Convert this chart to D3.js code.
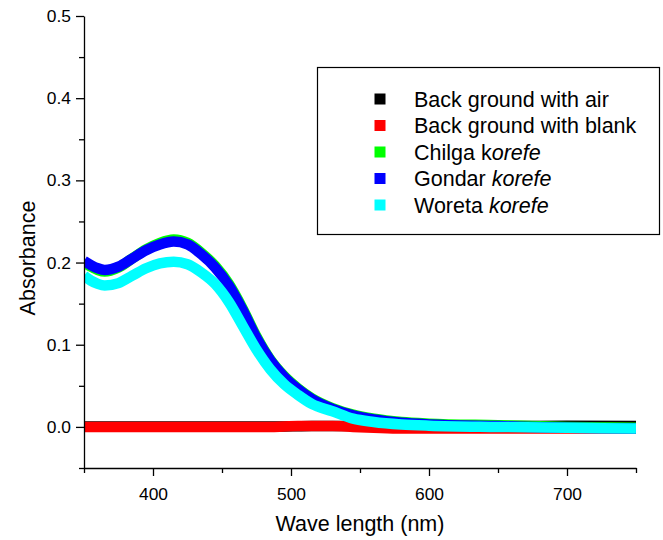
<!DOCTYPE html>
<meta charset="utf-8">
<style>
  body { margin: 0; background: #fff; }
  svg text { font-family: Arial, "Liberation Sans", sans-serif; fill: #000; }
</style>
<svg width="663" height="540"></svg>
<script src="https://cdn.jsdelivr.net/npm/d3@7/dist/d3.min.js"></script>
<script>

// wavelengths (nm) the values were read at
var wavelength = [350, 355, 360, 365, 375, 385, 395, 405, 415, 425, 435, 445, 455, 465, 475, 485, 495, 505, 515, 530, 545, 560, 580, 600, 650, 700, 750];

// absorbance per sample
var bgAir   = [0.0005, 0.0005, 0.0005, 0.0005, 0.0005, 0.0005, 0.0005, 0.0005, 0.0005, 0.0005, 0.0005, 0.0005, 0.0005, 0.0005, 0.0005, 0.0005, 0.0005, 0.0008, 0.001, 0.001, 0.001, 0.001, 0.001, 0.001, 0.001, 0.0015, 0.001];
var bgBlank = [0, 0, 0, 0, 0, 0, 0, 0, 0, 0, 0, 0, 0, 0, 0, 0, 0.0005, 0.001, 0.001, 0.001, 0, -0.001, -0.002, -0.002, -0.002, -0.002, -0.002];
var chilga  = [0.200, 0.195, 0.191, 0.189, 0.194, 0.205, 0.216, 0.224, 0.228, 0.224, 0.212, 0.196, 0.174, 0.144, 0.110, 0.082, 0.062, 0.047, 0.035, 0.023, 0.015, 0.010, 0.006, 0.004, 0.002, 0.000, -0.001];
var gondar  = [0.202, 0.197, 0.193, 0.191, 0.195, 0.205, 0.215, 0.222, 0.2255, 0.222, 0.210, 0.194, 0.172, 0.142, 0.108, 0.081, 0.061, 0.046, 0.034, 0.022, 0.014, 0.009, 0.005, 0.003, 0.001, -0.001, -0.002];
var woreta  = [0.184, 0.178, 0.174, 0.172, 0.175, 0.184, 0.193, 0.199, 0.201, 0.198, 0.188, 0.174, 0.152, 0.123, 0.094, 0.070, 0.052, 0.039, 0.028, 0.019, 0.010, 0.006, 0.003, 0.0015, 0.000, -0.001, -0.002];

var xMajor = [400, 500, 600, 700];
var xMinor = [350, 450, 550, 650, 750];
var yMajor = [0.0, 0.1, 0.2, 0.3, 0.4, 0.5];
var yMinor = [-0.05, 0.05, 0.15, 0.25, 0.35, 0.45];

var series = [
  {name: ["Back ground with air", ""], values: bgAir, color: "#000000"},
  {name: ["Back ground with blank", ""], values: bgBlank, color: "#ff0000"},
  {name: ["Chilga k", "orefe"], values: chilga, color: "#00ff00"},
  {name: ["Gondar ", "korefe"], values: gondar, color: "#0000ff"},
  {name: ["Woreta ", "korefe"], values: woreta, color: "#00ffff"}
];

var svg = d3.select("svg");

var x = d3.scaleLinear().domain([350, 750]).range([84, 636]);
var y = d3.scaleLinear().domain([-0.05, 0.5]).range([468, 16]);

// clip the thick traces to the plot area
svg.append("clipPath").attr("id", "plot")
  .append("rect")
    .attr("x", x(350)).attr("y", y(0.5))
    .attr("width", x(750) - x(350)).attr("height", y(-0.05) - y(0.5));

var line = d3.line()
  .x(function(d, i) { return x(wavelength[i]); })
  .y(function(d) { return y(d); })
  .curve(d3.curveMonotoneX);

svg.append("g").attr("clip-path", "url(#plot)")
  .selectAll("path")
  .data(series)
  .enter().append("path")
    .attr("d", function(d) { return line(d.values); })
    .attr("fill", "none")
    .attr("stroke", function(d) { return d.color; })
    .attr("stroke-width", 10.5)
    .attr("stroke-linejoin", "round");

// axes
function styleAxis(g) {
  g.selectAll("path, line").attr("stroke", "#000").attr("stroke-width", 1.3);
  g.selectAll("text").style("font-size", "17.4px").attr("fill", "#000");
}

svg.append("g")
    .attr("transform", "translate(0," + y(-0.05) + ")")
    .call(d3.axisBottom(x).tickValues(xMinor).tickSize(5).tickSizeOuter(0).tickFormat(""))
    .call(styleAxis);

svg.append("g")
    .attr("transform", "translate(0," + y(-0.05) + ")")
    .call(d3.axisBottom(x).tickValues(xMajor).tickSize(8).tickSizeOuter(0).tickPadding(12).tickFormat(d3.format("d")))
    .call(styleAxis)
    .call(function(g) { g.select(".domain").remove(); });

svg.append("g")
    .attr("transform", "translate(" + x(350) + ",0)")
    .call(d3.axisLeft(y).tickValues(yMinor).tickSize(5).tickSizeOuter(0).tickFormat(""))
    .call(styleAxis);

svg.append("g")
    .attr("transform", "translate(" + x(350) + ",0)")
    .call(d3.axisLeft(y).tickValues(yMajor).tickSize(8).tickSizeOuter(0).tickPadding(5).tickFormat(d3.format(".1f")))
    .call(styleAxis)
    .call(function(g) { g.select(".domain").remove(); });

// axis titles
svg.append("text")
    .attr("x", 360).attr("y", 531)
    .attr("text-anchor", "middle")
    .style("font-size", "21.5px")
    .text("Wave length (nm)");

svg.append("text")
    .attr("transform", "translate(35,258) rotate(-90)")
    .attr("text-anchor", "middle")
    .style("font-size", "21.5px")
    .text("Absorbance");

// legend
var legend = svg.append("g");
legend.append("rect")
    .attr("x", 317.5).attr("y", 67.5)
    .attr("width", 342).attr("height", 167)
    .attr("fill", "#fff").attr("stroke", "#000").attr("stroke-width", 1.2);

var row = legend.selectAll(".row")
  .data(series)
  .enter().append("g")
    .attr("class", "row")
    .attr("transform", function(d, i) { return "translate(0," + (99 + i * 26.5) + ")"; });

row.append("rect")
    .attr("x", 374.5).attr("y", -5.5)
    .attr("width", 11).attr("height", 11)
    .attr("fill", function(d) { return d.color; });

var label = row.append("text")
    .attr("x", 414).attr("y", 7.6)
    .style("font-size", "21.5px");
label.append("tspan").text(function(d) { return d.name[0]; });
label.append("tspan").style("font-style", "italic").text(function(d) { return d.name[1]; });

</script>
